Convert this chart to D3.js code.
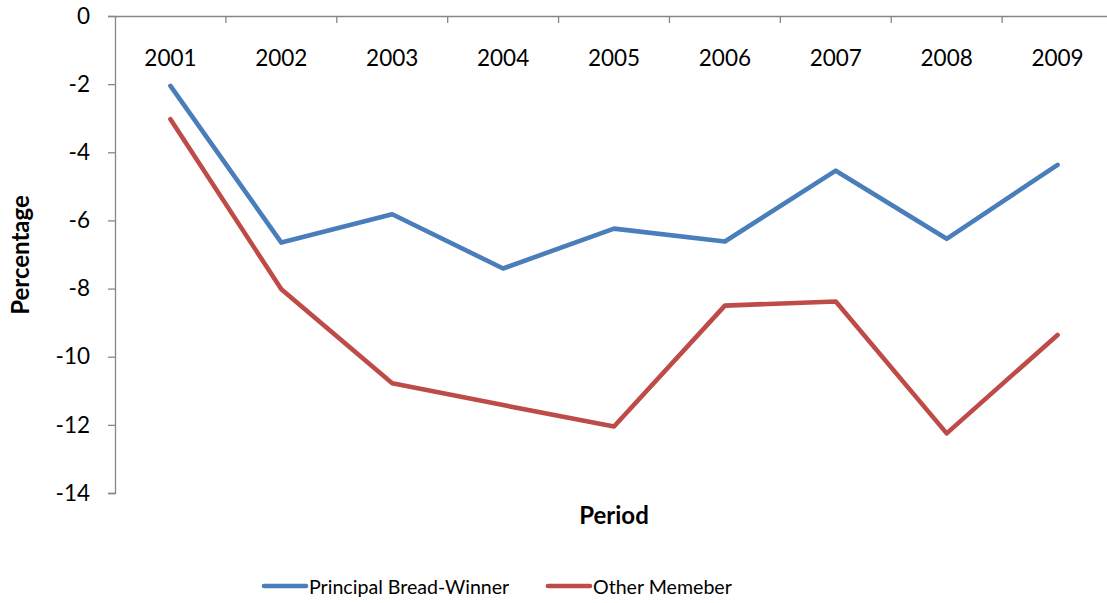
<!DOCTYPE html>
<html>
<head>
<meta charset="utf-8">
<script src="https://cdn.jsdelivr.net/npm/d3@7/dist/d3.min.js"></script>
<style>
  html, body { margin: 0; padding: 0; background: #fff; }
  svg { display: block; font-family: Lato, "Open Sans", sans-serif; }
</style>
</head>
<body>
<svg id="chart" width="1107" height="603"></svg>
<script>
// Yearly change (%) by household role
const periods = ["2001", "2002", "2003", "2004", "2005", "2006", "2007", "2008", "2009"];
const principalBreadWinner = [-2.05, -6.65, -5.82, -7.41, -6.24, -6.62, -4.54, -6.54, -4.37];
const otherMemeber = [-3.03, -8.02, -10.78, -11.42, -12.05, -8.50, -8.38, -12.25, -9.36];
const yTicks = [0, -2, -4, -6, -8, -10, -12, -14];

const series = [
  { name: "Principal Bread-Winner", values: principalBreadWinner, color: "#4a7ebb" },
  { name: "Other Memeber", values: otherMemeber, color: "#be4b48" }
];

const svg = d3.select("#chart");
const axisColor = "#868686";

const x = d3.scaleBand().domain(periods).range([115, 1113]);
const y = d3.scaleLinear().domain([-14, 0]).range([493, 16]);

// Category axis sits along the zero line at the top, ticks pointing into the plot
const xAxis = svg.append("g")
  .attr("transform", `translate(0,${y(0)})`)
  .call(d3.axisBottom(x).tickSize(0).tickFormat(""));
xAxis.select(".domain").attr("stroke", axisColor).attr("stroke-width", 1.3);
svg.append("g").selectAll("line")
  .data(periods.slice(1))
  .join("line")
  .attr("x1", d => x(d)).attr("x2", d => x(d))
  .attr("y1", y(0)).attr("y2", y(0) + 7)
  .attr("stroke", axisColor).attr("stroke-width", 1.3);
svg.append("g").selectAll("text")
  .data(periods)
  .join("text")
  .attr("x", d => x(d) + x.bandwidth() / 2)
  .attr("y", 66)
  .attr("text-anchor", "middle")
  .attr("font-size", 22.5)
  .attr("fill", "#000")
  .text(d => d);

// Value axis on the left
const yAxis = svg.append("g")
  .attr("transform", `translate(115,0)`)
  .call(d3.axisLeft(y).tickValues(yTicks).tickSize(7).tickPadding(18).tickFormat(d => d));
yAxis.select(".domain").attr("stroke", axisColor).attr("stroke-width", 1.3);
yAxis.selectAll(".tick line").attr("stroke", axisColor).attr("stroke-width", 1.3);
yAxis.selectAll(".tick text")
  .attr("font-size", 22.5)
  .attr("font-family", "Lato, 'Open Sans', sans-serif")
  .attr("fill", "#000");

// Series lines
const line = d3.line()
  .x((d, i) => x(periods[i]) + x.bandwidth() / 2)
  .y(d => y(d));

svg.append("g").selectAll("path")
  .data(series)
  .join("path")
  .attr("d", d => line(d.values))
  .attr("fill", "none")
  .attr("stroke", d => d.color)
  .attr("stroke-width", 4.6)
  .attr("stroke-linejoin", "round")
  .attr("stroke-linecap", "round");

// Axis titles
svg.append("text")
  .attr("transform", "translate(29,255) rotate(-90)")
  .attr("text-anchor", "middle")
  .attr("font-size", 24)
  .attr("font-weight", "bold")
  .text("Percentage");
svg.append("text")
  .attr("x", 614).attr("y", 524)
  .attr("text-anchor", "middle")
  .attr("font-size", 24)
  .attr("font-weight", "bold")
  .text("Period");

// Legend
const legendX = [264, 548];
const legend = svg.append("g").selectAll("g")
  .data(series)
  .join("g")
  .attr("transform", (d, i) => `translate(${legendX[i]},586)`);
legend.append("line")
  .attr("x1", 0).attr("x2", 42)
  .attr("stroke", d => d.color)
  .attr("stroke-width", 4.6)
  .attr("stroke-linecap", "round");
legend.append("text")
  .attr("x", 45).attr("y", 8)
  .attr("font-size", 19.6)
  .attr("fill", "#000")
  .text(d => d.name);
</script>
</body>
</html>
